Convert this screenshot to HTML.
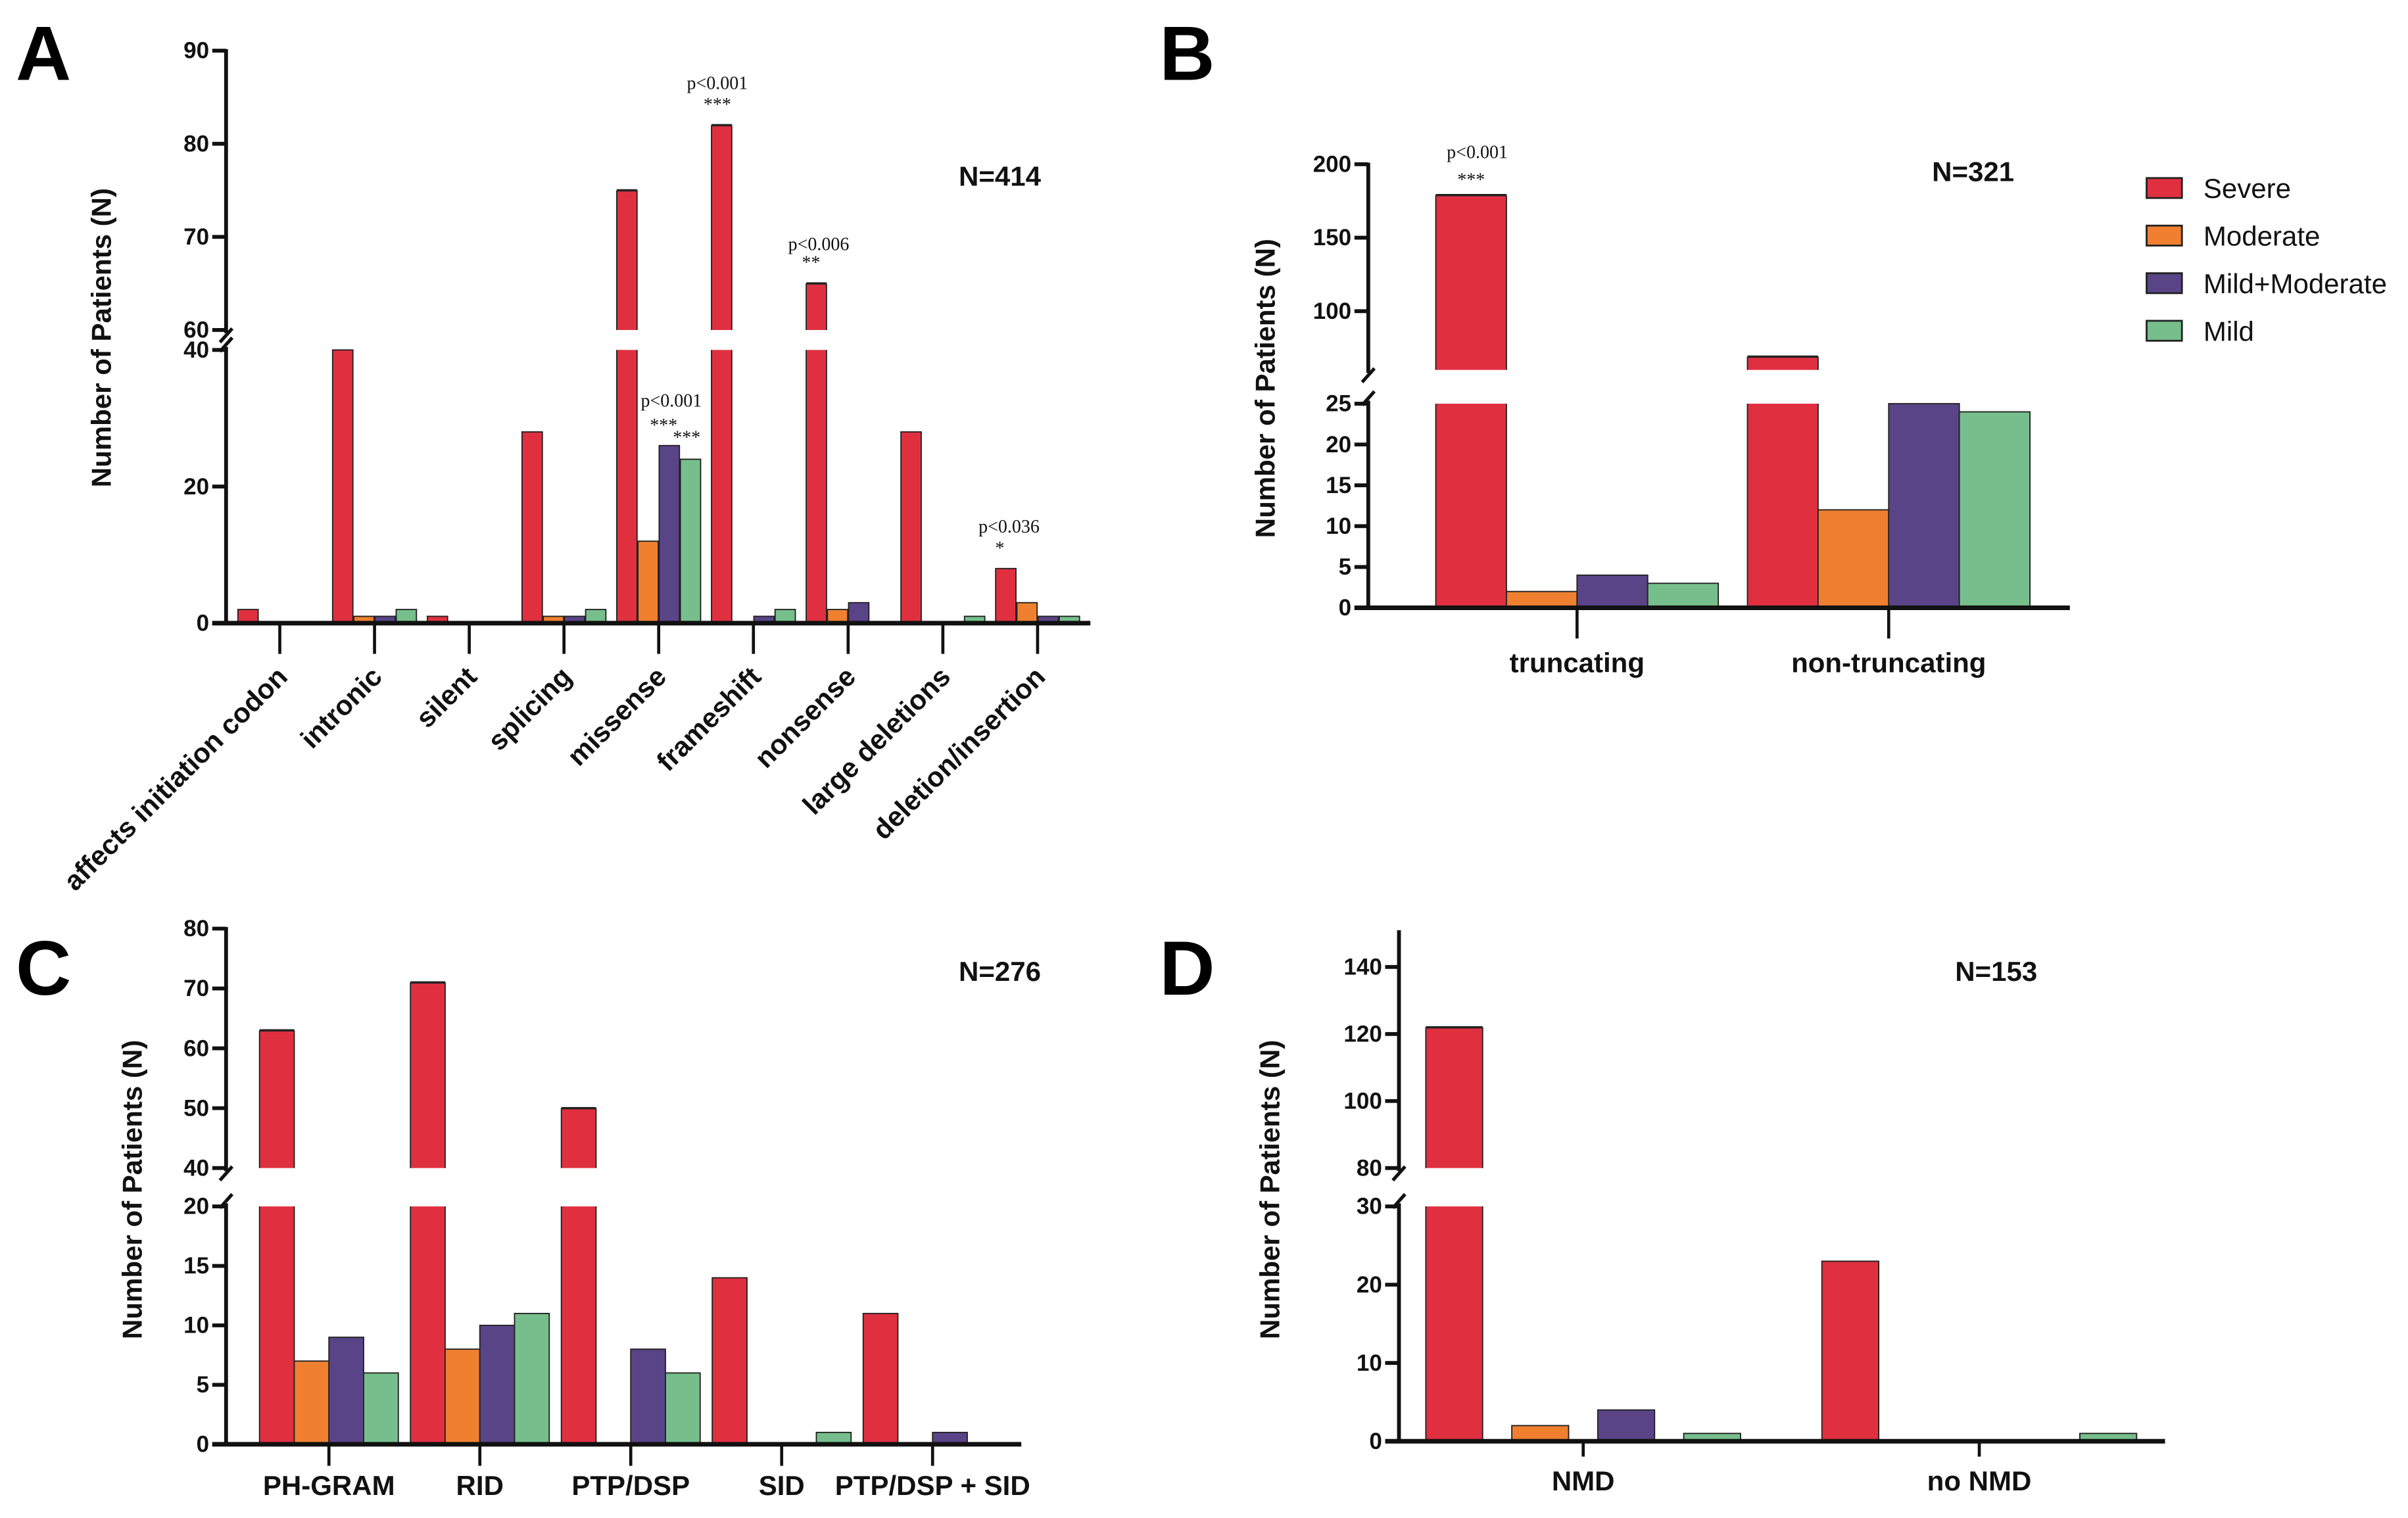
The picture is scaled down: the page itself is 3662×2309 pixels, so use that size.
<!DOCTYPE html>
<html><head><meta charset="utf-8"><style>
html,body{margin:0;padding:0;background:#fff}
svg{display:block}
.tk{font-family:"Liberation Sans Narrow","Liberation Sans",sans-serif;font-weight:bold;font-size:15px;fill:#111}
.lab{font-family:"Liberation Sans",sans-serif;font-weight:bold;font-size:18px;fill:#111}
.pv{font-family:"Liberation Serif",serif;font-size:12px;fill:#111}
.pl{font-family:"Liberation Sans",sans-serif;font-weight:bold;font-size:50px;fill:#000}
.lg{font-family:"Liberation Sans",sans-serif;font-size:18px;fill:#111}
</style></head><body>
<svg id="fig" width="3662" height="2309" viewBox="0 0 1568 989" xmlns="http://www.w3.org/2000/svg">
<rect width="1568" height="989" fill="#fff"/>
<text class="pl" x="10" y="52">A</text>
<text class="pl" x="755" y="52">B</text>
<text class="pl" x="10" y="648">C</text>
<text class="pl" x="755" y="648">D</text>
<g id="legend"></g>
</svg>
<script>
const seriesNames=["Severe","Moderate","Mild+Moderate","Mild"];
const colors=["#e03040","#f08030","#5a4488","#76bf8c"];
// Panel A
const catsA=["affects initiation codon","intronic","silent","splicing","missense","frameshift","nonsense","large deletions","deletion/insertion"];
const severeA=[2,40,1,28,75,82,65,28,8];
const moderateA=[0,1,0,1,12,0,2,0,3];
const mildModA=[0,1,0,1,26,1,3,0,1];
const mildA=[0,2,0,2,24,2,0,1,1];
const ticksLowA=[0,20,40];
const ticksUpA=[60,70,80,90];
// Panel B
const catsB=["truncating","non-truncating"];
const severeB=[179,69];
const moderateB=[2,12];
const mildModB=[4,25];
const mildB=[3,24];
const ticksLowB=[0,5,10,15,20,25];
const ticksUpB=[100,150,200];
// Panel C
const catsC=["PH-GRAM","RID","PTP/DSP","SID","PTP/DSP + SID"];
const severeC=[63,71,50,14,11];
const moderateC=[7,8,0,0,0];
const mildModC=[9,10,8,0,1];
const mildC=[6,11,6,1,0];
const ticksLowC=[0,5,10,15,20];
const ticksUpC=[40,50,60,70,80];
// Panel D
const catsD=["NMD","no NMD"];
const severeD=[122,23];
const moderateD=[2,0];
const mildModD=[4,0];
const mildD=[1,1];
const ticksLowD=[0,10,20,30];
const ticksUpD=[80,100,120,140];

const NS="http://www.w3.org/2000/svg";
const svg=document.getElementById('fig');
function el(tag,attrs,parent){const e=document.createElementNS(NS,tag);for(const k in attrs)e.setAttribute(k,attrs[k]);(parent||svg).appendChild(e);return e;}

function panel(p){
  const g=el('g',{});
  
  
  const yLow=v=>p.y0-(v/p.lmax)*(p.y0-p.ylTop);
  const yUp=v=>p.yuBot-(v-p.umin)/(p.umax-p.umin)*(p.yuBot-p.yuTop);
  const xc=i=>p.x0+p.firstC+i*p.step;
  const series=[p.s0,p.s1,p.s2,p.s3];
  series.forEach((arr,si)=>{
    arr.forEach((v,i)=>{
      if(v<=0)return;
      const x=xc(i)-2*p.slot+si*p.slot+(p.slot-p.bw)/2;
      if(v<=p.lmax){
        const r=el('rect',{x:x,y:yLow(v),width:p.bw,height:p.y0-yLow(v),fill:colors[si],stroke:'#222','stroke-width':0.8},g);
        
        
      }else{
        const r=el('rect',{x:x,y:p.ylTop,width:p.bw,height:p.y0-p.ylTop,fill:colors[si]},g);
        
        
        const r2=el('rect',{x:x,y:yUp(v),width:p.bw,height:p.yuBot-yUp(v),fill:colors[si]},g);
        
        
        el('line',{x1:x,x2:x+p.bw,y1:yUp(v),y2:yUp(v),stroke:'#222','stroke-width':1.5},g);
        el('line',{x1:x,x2:x,y1:yUp(v),y2:p.yuBot,stroke:'#222','stroke-width':0.8},g);
        el('line',{x1:x+p.bw,x2:x+p.bw,y1:yUp(v),y2:p.yuBot,stroke:'#222','stroke-width':0.8},g);
        el('line',{x1:x,x2:x,y1:p.ylTop,y2:p.y0,stroke:'#222','stroke-width':0.8},g);
        el('line',{x1:x+p.bw,x2:x+p.bw,y1:p.ylTop,y2:p.y0,stroke:'#222','stroke-width':0.8},g);
      }
    });
  });
  const ax=el('g',{},g);
  
  
  el('line',{x1:p.x0,x2:p.x0,y1:p.y0+1,y2:p.ylTop-2,stroke:'#111','stroke-width':2.5},ax);
  el('line',{x1:p.x0,x2:p.x0,y1:p.yuBot+2,y2:p.axTop,stroke:'#111','stroke-width':2.5},ax);
  el('line',{x1:p.x0-4,x2:p.x0+4,y1:p.ylTop+1,y2:p.ylTop-8,stroke:'#111','stroke-width':2.2},ax);
  el('line',{x1:p.x0-4,x2:p.x0+4,y1:p.yuBot+8,y2:p.yuBot-1,stroke:'#111','stroke-width':2.2},ax);
  p.tl.forEach(t=>{const y=yLow(t);el('line',{x1:p.x0-9,x2:p.x0,y1:y,y2:y,stroke:'#111','stroke-width':2.5},ax);
    const tx=el('text',{x:p.x0-11,y:y+5,'text-anchor':'end',class:'tk'},ax);tx.textContent=t;
    });
  p.tu.forEach(t=>{const y=yUp(t);el('line',{x1:p.x0-9,x2:p.x0,y1:y,y2:y,stroke:'#111','stroke-width':2.5},ax);
    const tx=el('text',{x:p.x0-11,y:y+5,'text-anchor':'end',class:'tk'},ax);tx.textContent=t;
    });
  const xa=el('g',{},g);
  
  
  el('line',{x1:p.x0-9,x2:p.xEnd,y1:p.y0,y2:p.y0,stroke:'#111','stroke-width':3},xa);
  p.cats.forEach((c,i)=>{
    el('line',{x1:xc(i),x2:xc(i),y1:p.y0,y2:p.y0+p.tickLen,stroke:'#111','stroke-width':2},xa);
    let tx;
    if(p.rot){tx=el('text',{x:0,y:0,'text-anchor':'end',class:'lab',transform:'translate('+(xc(i)+6)+','+(p.y0+36)+') rotate(-45)'},xa);}
    else{tx=el('text',{x:xc(i),y:p.labY,'text-anchor':'middle',class:'lab'},xa);}
    tx.textContent=c;
    
    
  });
  const yt=el('text',{x:0,y:0,'text-anchor':'middle',class:'lab',transform:'translate('+p.ytX+','+p.ytY+') rotate(-90)'},g);
  yt.textContent='Number of Patients (N)';
  
  
  const nt=el('text',{x:p.nX,y:p.nY,'text-anchor':'middle',class:'lab'},g);
  nt.textContent=p.nText;
  
  
  (p.ann||[]).forEach(a=>{const t=el('text',{x:a[0],y:a[1],'text-anchor':'middle',class:'pv','font-size':a[3]||12},g);t.textContent=a[2];
    });
}

panel({name:'panel-a-chart',cats:catsA,s0:severeA,s1:moderateA,s2:mildModA,s3:mildA,tl:ticksLowA,tu:ticksUpA,
  x0:147,xEnd:710,y0:406,lmax:40,ylTop:228,umin:60,umax:90,yuBot:215,yuTop:33,axTop:32,
  firstC:35,step:61.7,slot:13.8,bw:13.2,tickLen:20,rot:true,ytX:72,ytY:220,nX:651,nY:121,nText:'N=414',
  ann:[[467,58,'p<0.001'],[467,72,'***',10],[533,163,'p<0.006'],[528,175,'**',10],[437,265,'p<0.001'],[432,281,'***',10],[447,289,'***',10],[657,347,'p<0.036'],[651,361,'*',10]]});
panel({name:'panel-b-chart',cats:catsB,s0:severeB,s1:moderateB,s2:mildModB,s3:mildB,tl:ticksLowB,tu:ticksUpB,
  x0:891,xEnd:1348,y0:396,lmax:25,ylTop:263,umin:60,umax:200,yuBot:241,yuTop:107,axTop:106,
  firstC:136,step:203,slot:46,bw:46,tickLen:20,rot:false,labY:438,ytX:830,ytY:253,nX:1285,nY:118,nText:'N=321',
  ann:[[962,103,'p<0.001'],[958,121,'***',16]]});
panel({name:'panel-c-chart',cats:catsC,s0:severeC,s1:moderateC,s2:mildModC,s3:mildC,tl:ticksLowC,tu:ticksUpC,
  x0:147,xEnd:665,y0:941,lmax:20,ylTop:786,umin:40,umax:80,yuBot:761,yuTop:605,axTop:604,
  firstC:67,step:98.3,slot:22.6,bw:22.6,tickLen:14,rot:false,labY:974,ytX:92,ytY:775,nX:651,nY:639,nText:'N=276'});
panel({name:'panel-d-chart',cats:catsD,s0:severeD,s1:moderateD,s2:mildModD,s3:mildD,tl:ticksLowD,tu:ticksUpD,
  x0:911,xEnd:1410,y0:939,lmax:30,ylTop:786,umin:80,umax:140,yuBot:761,yuTop:630,axTop:606,
  firstC:120,step:258,slot:56,bw:37,tickLen:10,rot:false,labY:971,ytX:833,ytY:775,nX:1300,nY:639,nText:'N=153'});

const lg=document.getElementById('legend');
seriesNames.forEach((n,i)=>{
  const y=116+i*31;
  const r=el('rect',{x:1398,y:y,width:23,height:13,fill:colors[i],stroke:'#222','stroke-width':1.2},lg);
  
  
  const t=el('text',{x:1435,y:y+13,class:'lg'},lg);
  t.textContent=n;
  
  
});
</script>
</body></html>
